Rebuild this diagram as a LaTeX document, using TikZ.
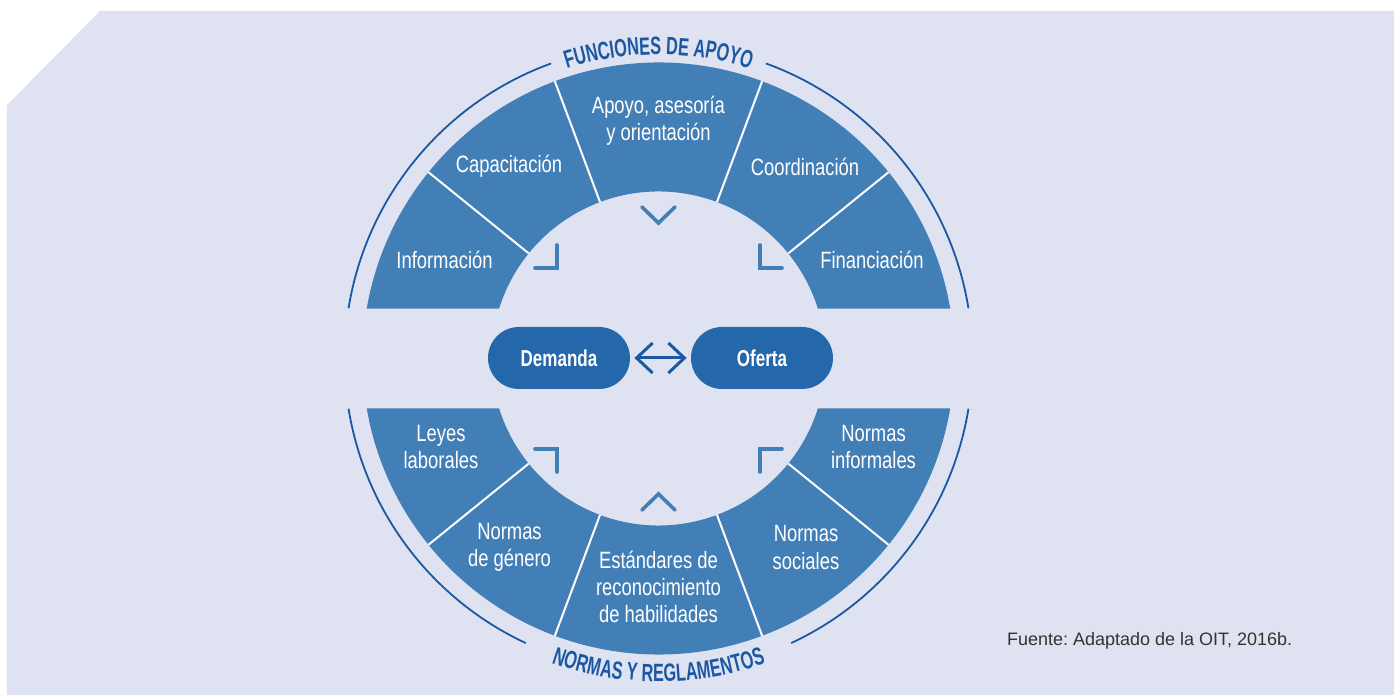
\documentclass[tikz,border=0pt]{standalone}
\usepackage{fontspec}
\setmainfont{Liberation Sans}
\newfontfamily\condfont{Liberation Sans}[FakeStretch=0.78]
\newfontfamily\pillfont{Liberation Sans}[FakeStretch=0.74]
\newfontfamily\titlefont{Liberation Sans}[FakeStretch=0.65]
\frenchspacing
\usepackage{tikz}
\usetikzlibrary{
	arrows.meta,
	decorations.text,
	positioning
}
\definecolor{bgpanel}{RGB}{223,227,241}
\definecolor{segblue}{RGB}{67,127,183}
\definecolor{pillblue}{RGB}{36,103,170}
\definecolor{darkblue}{RGB}{27,88,164}
\definecolor{notegray}{RGB}{51,51,51}
\tikzset{every path/.append style={>={Straight Barb[length=8pt,width=15pt]}}}
\tikzset{
	seglabel/.style={text=white,align=center,font=\condfont\fontsize{11.8}{13.5}\selectfont},
	pill/.style={fill=pillblue,text=white,rounded corners=15.5pt,minimum width=71pt,minimum height=31pt,font=\pillfont\bfseries\fontsize{11.5}{13}\selectfont},
	divline/.style={white,line width=1pt},
	ringline/.style={darkblue,line width=0.9pt},
	chev/.style={segblue,line width=1.8pt,line cap=round}
}
\newcommand{\segLabel}[3]{\node (#2) at #1 [seglabel]{#3};}

\begin{document}
\begin{tikzpicture}[x=0.5pt,y=0.5pt]
	\useasboundingbox (-658.5,-336.5) rectangle (735.5,358.5);
	\fill[bgpanel] (-651.5,253.5) -- (-558.5,347.5) -- (735.5,347.5) -- (735.5,-336.5) -- (-651.5,-336.5) -- cycle;
	
	% Half rings
	\fill[segblue] (9.72:296) arc[start angle=9.72,end angle=170.28,radius=296] -- (162.58:167) arc[start angle=162.58,end angle=17.42,radius=167] -- cycle;
	\fill[segblue] (-9.72:296) arc[start angle=-9.72,end angle=-170.28,radius=296] -- (-162.58:167) arc[start angle=-162.58,end angle=-17.42,radius=167] -- cycle;
	\foreach \a in {39,69.5,110.5,141}{
		\draw[divline] (\a:167) -- (\a:296);
		\draw[divline] (-\a:167) -- (-\a:296);
	}
	
	% Outer lines and titles
	\draw[ringline] (9.2:314) arc[start angle=9.2,end angle=70,radius=314];
	\draw[ringline] (110:314) arc[start angle=110,end angle=170.8,radius=314];
	\draw[ringline] (-9.2:314) arc[start angle=-9.2,end angle=-65,radius=314];
	\draw[ringline] (-115:314) arc[start angle=-115,end angle=-170.8,radius=314];
	\path[decorate,decoration={text along path,text align=center,
		text={|\titlefont\bfseries\fontsize{12.5}{14}\selectfont\color{darkblue}|FUNCIONES DE APOYO}}]
		(125:304) arc[start angle=125,end angle=55,radius=304];
	\path[decorate,decoration={text along path,text align=center,
		text={|\titlefont\bfseries\fontsize{12.5}{14}\selectfont\color{darkblue}|NORMAS Y REGLAMENTOS}}]
		(235:323) arc[start angle=235,end angle=305,radius=323];
	
	% Funciones de apoyo
	\segLabel{(-214,98.5)}{info}{Información}
	\segLabel{(-149.5,191.8)}{capa}{Capacitación}
	\segLabel{(0,237.5)}{apoyo}{Apoyo, asesoría\\y orientación}
	\segLabel{(146.5,191.8)}{coord}{Coordinación}
	\segLabel{(213.5,98.5)}{finan}{Financiación}
	
	% Normas y reglamentos
	\segLabel{(-217.5,-89)}{leyes}{Leyes\\laborales}
	\segLabel{(-149,-189)}{genero}{Normas\\de género}
	\segLabel{(0,-228.5)}{estand}{Estándares de\\reconocimiento\\de habilidades}
	\segLabel{(147.5,-189)}{social}{Normas\\sociales}
	\segLabel{(215,-89)}{informal}{Normas\\informales}
	
	% Chevrons
	\draw[chev] (-16.5,151.5) -- (0,135.5) -- (16.5,151.5);
	\draw[chev] (-16.5,-151.5) -- (0,-135.5) -- (16.5,-151.5);
	\draw[chev] (-101.5,113.5) -- (-101.5,90.5) -- (-123.5,90.5);
	\draw[chev] (101.5,113.5) -- (101.5,90.5) -- (123.5,90.5);
	\draw[chev] (-101.5,-113.5) -- (-101.5,-90.5) -- (-123.5,-90.5);
	\draw[chev] (101.5,-113.5) -- (101.5,-90.5) -- (123.5,-90.5);
	
	% Demanda y oferta
	\node (dem) at (-99.5,0.5) [pill]{Demanda};
	\node (ofe) at (103.5,0.5) [pill]{Oferta};
	\draw[darkblue,line width=1.5pt,<->,shorten <=2pt,shorten >=2pt] (dem) -- (ofe);
	
	\node (fuente) at (341.5,-282.5) [anchor=west,text=notegray,font=\fontsize{9}{11}\selectfont]{Fuente: Adaptado de la OIT, 2016b.};
\end{tikzpicture}
\end{document}
